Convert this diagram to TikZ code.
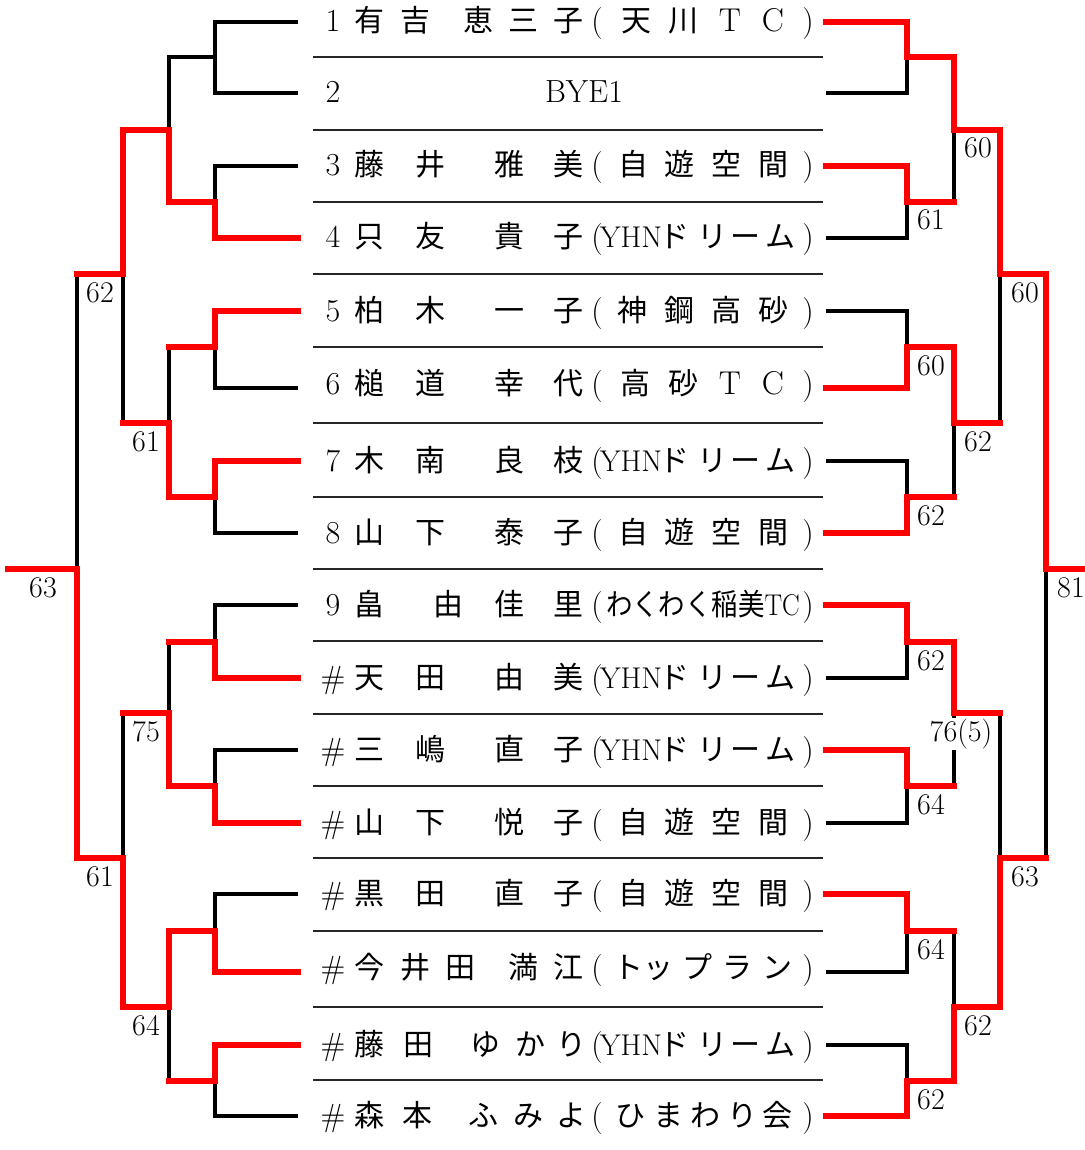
\documentclass[tikz,border=0pt]{standalone}
\usepackage{graphicx}
\usepackage{fontspec}
\newfontfamily\jp{Noto Sans CJK JP}
\usepackage{tikz}

\tikzset{
  bk/.style={line width=1.6pt},
  win/.style={red, line width=3.3pt, line cap=rect},
  rule/.style={line width=1pt, black!85},
  cj/.style={font=\jp\fontsize{15}{18}\selectfont, anchor=base, inner sep=0pt},
  lt/.style={font=\fontsize{16}{18}\selectfont, anchor=base, inner sep=0pt},
  score/.style={font=\fontsize{15}{18}\selectfont, anchor=base, fill=white, inner sep=0.5pt},
}
\newcommand{\lat}[1]{{\rmfamily\fontsize{16.5}{18}\selectfont #1}}

% #1 row, #2 y of the row line, #3 number, #4 name, #5 club
\newcommand{\player}[5]{%
  \node[lt] (no#1) at (333,#2+10) {#3};
  \foreach \x/\c [count=\k] in {#4} \node[cj] (nm#1-\k) at (\x,#2+10) {\c};
  \node[lt] (op#1) at (597,#2+10) {(};
  \foreach \x/\c [count=\k] in {#5} \node[cj] (cl#1-\k) at (\x,#2+10) {\c};
  \node[lt] (cp#1) at (808,#2+10) {)};
}

\begin{document}
\begin{tikzpicture}[x=0.5pt,y=-0.5pt]
  \useasboundingbox (0,0) rectangle (1084,1150);
  % row ends
  \foreach \y [count=\i] in {22,93,166,238,311,388,461,533,605,678,750,823,894,972,1045,1116} {
    \coordinate (l\i) at (298,\y);
    \coordinate (r\i) at (826,\y);
  }
  % junctions, round by round
  \foreach \y [count=\i] in {57,202,347,497,642,786,931,1081} {
    \coordinate (la\i) at (215,\y);
    \coordinate (ra\i) at (907,\y);
  }
  \foreach \y [count=\i] in {130,423,713,1007} {
    \coordinate (lb\i) at (169,\y);
    \coordinate (rb\i) at (954,\y);
  }
  \foreach \y [count=\i] in {274,858} {
    \coordinate (lc\i) at (123,\y);
    \coordinate (rc\i) at (1000,\y);
  }
  \coordinate (ld) at (77,569);  \coordinate (rd) at (1046,569);
  \coordinate (le) at (8,569);   \coordinate (re) at (1084,569);

  % rules between the rows
  \foreach \y in {57,130,202,274,347,423,497,569,641,714,786,858,931,1007,1080}
    \draw[rule] (313,\y) -- (823,\y);

  % players
  \player{1}{22}{1}{369/有,415/吉,478/恵,523/三,568/子}{636/天,683/川,730/\lat{T},773/\lat{C}}
  \node[lt] (no2) at (333,103) {2};
  \node[lt] (bye) at (584,103) {BYE1};
  \player{3}{166}{3}{369/藤,430/井,509/雅,568/美}{633/自,679/遊,726/空,773/間}
  \player{4}{238}{4}{369/只,430/友,509/貴,568/子}{631/{\rmfamily YHN},674/ド,712/リ,745/ー,780/ム}
  \player{5}{311}{5}{369/柏,430/木,509/一,568/子}{632/神,679/鋼,726/高,773/砂}
  \player{6}{384}{6}{369/槌,430/道,509/幸,568/代}{635/高,683/砂,730/\lat{T},773/\lat{C}}
  \player{7}{461}{7}{369/木,430/南,509/良,568/枝}{631/{\rmfamily YHN},674/ド,712/リ,745/ー,780/ム}
  \player{8}{533}{8}{369/山,430/下,509/泰,568/子}{633/自,679/遊,726/空,773/間}
  \player{9}{605}{9}{369/畠,448/由,509/佳,568/里}{703/{\scalebox{0.88}[1]{わくわく稲美\rmfamily TC}}}
  \player{10}{678}{\#}{369/天,430/田,509/由,568/美}{631/{\rmfamily YHN},674/ド,712/リ,745/ー,780/ム}
  \player{11}{750}{\#}{369/三,430/嶋,509/直,568/子}{631/{\rmfamily YHN},674/ド,712/リ,745/ー,780/ム}
  \player{12}{823}{\#}{369/山,430/下,509/悦,568/子}{633/自,679/遊,726/空,773/間}
  \player{13}{894}{\#}{369/黒,430/田,509/直,568/子}{633/自,679/遊,726/空,773/間}
  \player{14}{968}{\#}{369/今,415/井,460/田,523/満,568/江}{628/ト,658/ッ,697/プ,737/ラ,777/ン}
  \player{15}{1045}{\#}{369/藤,418/田,485/ゆ,530/か,571/り}{631/{\rmfamily YHN},674/ド,712/リ,745/ー,780/ム}
  \player{16}{1116}{\#}{369/森,417/本,483/ふ,528/み,571/よ}{630/ひ,668/ま,705/わ,742/り,777/会}

  % black bracket on both sides
  \foreach \i in {1,...,8} {
    \pgfmathtruncatemacro{\p}{2*\i-1}
    \pgfmathtruncatemacro{\q}{2*\i}
    \draw[bk] (l\p) -| (la\i) |- (l\q);
    \draw[bk] (r\p) -| (ra\i) |- (r\q);
  }
  \foreach \i in {1,...,4} {
    \pgfmathtruncatemacro{\p}{2*\i-1}
    \pgfmathtruncatemacro{\q}{2*\i}
    \draw[bk] (la\p) -| (lb\i) |- (la\q);
    \draw[bk] (ra\p) -| (rb\i) |- (ra\q);
  }
  \foreach \i in {1,2} {
    \pgfmathtruncatemacro{\p}{2*\i-1}
    \pgfmathtruncatemacro{\q}{2*\i}
    \draw[bk] (lb\p) -| (lc\i) |- (lb\q);
    \draw[bk] (rb\p) -| (rc\i) |- (rb\q);
  }
  \draw[bk] (lc1) -| (ld) |- (lc2);
  \draw[bk] (rc1) -| (rd) |- (rc2);

  % scores
  \node[score] (sl1) at (100,302) {62};
  \node[score] (sl2) at (146,451) {61};
  \node[score] (sl3) at (43,597) {63};
  \node[score] (sl4) at (146,741) {75};
  \node[score] (sl5) at (100,886) {61};
  \node[score] (sl6) at (146,1035) {64};
  \node[score] (sr1) at (931,230) {61};
  \node[score] (sr2) at (978,158) {60};
  \node[score] (sr3) at (1025,302) {60};
  \node[score] (sr4) at (931,375) {60};
  \node[score] (sr5) at (978,451) {62};
  \node[score] (sr6) at (931,525) {62};
  \node[score] (sr7) at (1071,597) {81};
  \node[score] (sr8) at (931,670) {62};
  \node[score] (sr9) at (961,741) {76(5)};
  \node[score] (sr10) at (931,814) {64};
  \node[score] (sr11) at (1025,886) {63};
  \node[score] (sr12) at (931,959) {64};
  \node[score] (sr13) at (978,1035) {62};
  \node[score] (sr14) at (931,1109) {62};

  % winners, left side
  \draw[win] (l4) -| (la2) -| (lb1) -| (lc1) -- (lc1 -| ld);
  \draw[win] (l5) -| (la3) -- (la3 -| lb2);
  \draw[win] (l7) -| (la4) -| (lb2) -- (lb2 -| lc1);
  \draw[win] (l10) -| (la5) -- (la5 -| lb3);
  \draw[win] (l12) -| (la6) -| (lb3) -- (lb3 -| lc2);
  \draw[win] (l14) -| (la7) -| (lb4) -| (lc2) -| (ld) -- (le);
  \draw[win] (l15) -| (la8) -- (la8 -| lb4);
  % winners, right side
  \draw[win] (r1) -| (ra1) -| (rb1) -| (rc1) -| (rd) -- (re);
  \draw[win] (r3) -| (ra2) -- (ra2 -| rb1);
  \draw[win] (r6) -| (ra3) -| (rb2) -- (rb2 -| rc1);
  \draw[win] (r8) -| (ra4) -- (ra4 -| rb2);
  \draw[win] (r9) -| (ra5) -| (rb3) -- (rb3 -| rc2);
  \draw[win] (r11) -| (ra6) -- (ra6 -| rb3);
  \draw[win] (r13) -| (ra7) -- (ra7 -| rb4);
  \draw[win] (r16) -| (ra8) -| (rb4) -| (rc2) -- (rc2 -| rd);
\end{tikzpicture}
\end{document}
